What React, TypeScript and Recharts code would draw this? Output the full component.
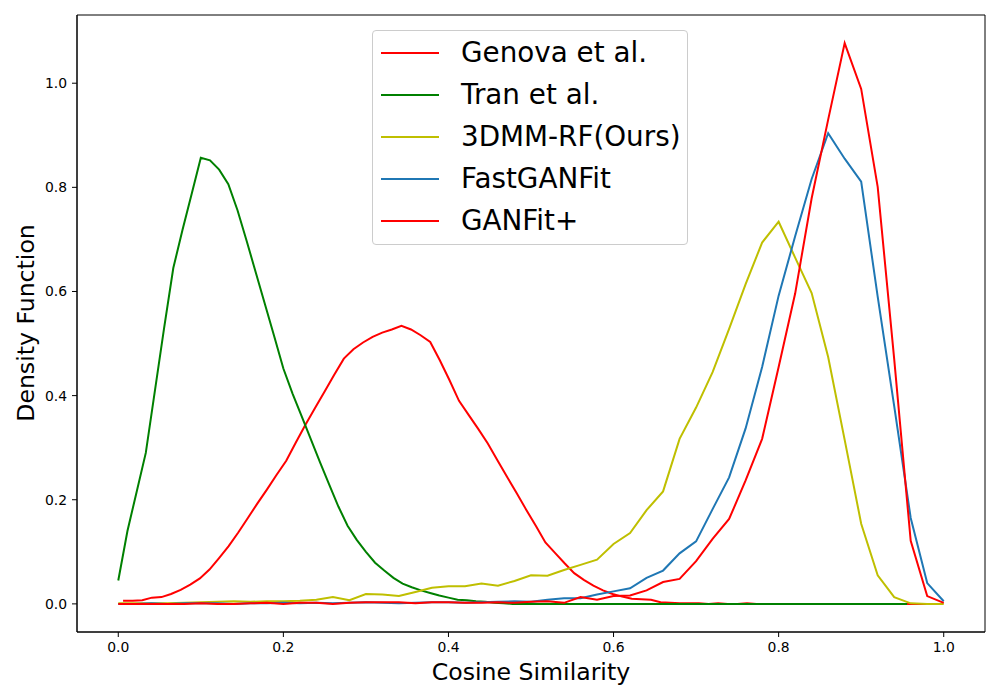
import { Label, Line, LineChart, ReferenceArea, XAxis, YAxis } from "recharts";

// Genova et al. — 86 bin centres over [0, 1]
const GENOVA = [
  0.006, 0.006, 0.007, 0.012, 0.013, 0.019, 0.027, 0.037, 0.049, 0.066,
  0.088, 0.111, 0.137, 0.165, 0.193, 0.22, 0.248, 0.275, 0.31, 0.344,
  0.376, 0.408, 0.44, 0.471, 0.489, 0.502, 0.513, 0.521, 0.527, 0.534,
  0.527, 0.516, 0.503, 0.468, 0.43, 0.39, 0.363, 0.336, 0.308, 0.276,
  0.244, 0.213, 0.181, 0.15, 0.118, 0.098, 0.078, 0.059, 0.046, 0.035,
  0.026, 0.019, 0.014, 0.01, 0.009, 0.008, 0.003, 0.002, 0.001, 0.001,
  0.001, 0, 0.001, 0, 0, 0.001, 0, 0, 0, 0,
  0, 0, 0, 0, 0, 0, 0, 0, 0, 0,
  0, 0, 0, 0, 0, 0,
];

// Tran et al. — samples every 1/90
const TRAN = [
  0.045, 0.14, 0.215, 0.29, 0.41, 0.53, 0.645, 0.718, 0.787, 0.857,
  0.852, 0.834, 0.806, 0.756, 0.697, 0.636, 0.575, 0.514, 0.452, 0.404,
  0.36, 0.316, 0.272, 0.229, 0.187, 0.15, 0.123, 0.1, 0.079, 0.064,
  0.05, 0.039, 0.032, 0.026, 0.021, 0.016, 0.012, 0.008, 0.007, 0.005,
  0.004, 0.002, 0.001, 0, 0, 0, 0, 0, 0, 0,
  0, 0, 0, 0, 0, 0, 0, 0, 0, 0,
  0, 0, 0, 0, 0, 0, 0, 0, 0, 0,
  0, 0, 0, 0, 0, 0, 0, 0, 0, 0,
  0, 0, 0, 0, 0, 0, 0,
];

// the three methods below are sampled every 0.02 from 0 to 1
const OURS = [
  0.001, 0.001, 0.001, 0.001, 0.002, 0.003, 0.004, 0.005, 0.004, 0.005,
  0.005, 0.006, 0.008, 0.013, 0.007, 0.019, 0.018, 0.015, 0.023, 0.031,
  0.034, 0.034, 0.039, 0.035, 0.044, 0.055, 0.054, 0.065, 0.075, 0.085,
  0.115, 0.136, 0.18, 0.216, 0.317, 0.377, 0.445, 0.528, 0.614, 0.694,
  0.734, 0.665, 0.597, 0.474, 0.315, 0.154, 0.055, 0.013, 0.001, 0,
  0,
];

const FASTGANFIT = [
  0, 0, 0.001, 0, 0.001, 0.001, 0.001, 0, 0.001, 0.001,
  0.002, 0.001, 0.002, 0.001, 0.002, 0.003, 0.002, 0.001, 0.002, 0.003,
  0.003, 0.002, 0.003, 0.004, 0.005, 0.004, 0.008, 0.011, 0.011, 0.018,
  0.024, 0.03, 0.05, 0.064, 0.097, 0.12, 0.182, 0.243, 0.337, 0.455,
  0.592, 0.706, 0.816, 0.904, 0.855, 0.811, 0.59, 0.38, 0.165, 0.04,
  0.005,
];

const GANFIT_PLUS = [
  0, 0, 0, 0, 0, 0.001, 0, 0, 0.001, 0.002,
  0, 0.002, 0.002, 0, 0.002, 0.003, 0.003, 0.003, 0.001, 0.003,
  0.003, 0.002, 0.002, 0.003, 0.002, 0.004, 0.005, 0.002, 0.013, 0.008,
  0.015, 0.016, 0.026, 0.042, 0.048, 0.082, 0.125, 0.163, 0.237, 0.317,
  0.455, 0.596, 0.779, 0.93, 1.077, 0.989, 0.801, 0.47, 0.121, 0.015,
  0.002,
];

const X_TICKS = [0, 0.2, 0.4, 0.6, 0.8, 1.0];
const Y_TICKS = [0, 0.2, 0.4, 0.6, 0.8, 1.0];

// sample positions on the x axis
const GENOVA_X = GENOVA.map((_, i) => (i + 0.5) / 86);
const TRAN_X = TRAN.map((_, i) => i / 90);
const GRID_X = OURS.map((_, i) => i * 0.02);

const toPoints = (xs: number[], ys: number[]) =>
  ys.map((y, i) => ({ x: xs[i], y }));

const series = [
  { name: "Genova et al.", color: "#ff0000", data: toPoints(GENOVA_X, GENOVA) },
  { name: "Tran et al.", color: "#008000", data: toPoints(TRAN_X, TRAN) },
  { name: "3DMM-RF(Ours)", color: "#bfbf00", data: toPoints(GRID_X, OURS) },
  { name: "FastGANFit", color: "#1f77b4", data: toPoints(GRID_X, FASTGANFIT) },
  { name: "GANFit+", color: "#ff0000", data: toPoints(GRID_X, GANFIT_PLUS) },
];

const FONT = "DejaVu Sans, sans-serif";
const X_DOMAIN: [number, number] = [-0.05, 1.05];
const Y_DOMAIN: [number, number] = [-0.054, 1.131];

const XTick = ({ x, y, payload }: any) => (
  <text
    x={x}
    y={y}
    dy="0.78em"
    textAnchor="middle"
    fontFamily={FONT}
    fontSize={13.9}
    fill="#000"
  >
    {payload.value.toFixed(1)}
  </text>
);

const YTick = ({ x, y, payload }: any) => (
  <text
    x={x}
    y={y}
    dy="0.36em"
    textAnchor="end"
    fontFamily={FONT}
    fontSize={13.9}
    fill="#000"
  >
    {payload.value.toFixed(1)}
  </text>
);

function ChartLegend() {
  return (
    <div
      style={{
        position: "absolute",
        left: 372,
        top: 30,
        width: 316,
        height: 215,
        boxSizing: "border-box",
        border: "1px solid #cccccc",
        borderRadius: 4,
        background: "rgba(255,255,255,0.8)",
        fontFamily: FONT,
        fontSize: 27.8,
        color: "#000",
        paddingTop: 1,
      }}
    >
      {series.map((s) => (
        <div
          key={s.name}
          style={{ display: "flex", alignItems: "center", height: 42, marginLeft: 8 }}
        >
          <span
            style={{
              display: "inline-block",
              width: 58,
              height: 2,
              background: s.color,
              marginRight: 22,
            }}
          />
          <span style={{ lineHeight: "42px", whiteSpace: "nowrap" }}>{s.name}</span>
        </div>
      ))}
    </div>
  );
}

export default function App() {
  return (
    <div
      style={{
        position: "absolute",
        left: 0,
        top: 0,
        width: 1000,
        height: 700,
        background: "#fff",
      }}
    >
      <LineChart
        width={1000}
        height={700}
        margin={{ top: 15, right: 15, bottom: 0, left: 0 }}
      >
        <XAxis
          type="number"
          dataKey="x"
          domain={X_DOMAIN}
          allowDataOverflow
          ticks={X_TICKS}
          tick={<XTick />}
          tickSize={5}
          tickMargin={4}
          height={68}
          axisLine={{ stroke: "#000" }}
          tickLine={{ stroke: "#000" }}
          label={
            <Label
              content={() => (
                <text
                  x={531}
                  y={672}
                  textAnchor="middle"
                  dominantBaseline="central"
                  fontFamily={FONT}
                  fontSize={23.6}
                  fill="#000"
                >
                  Cosine Similarity
                </text>
              )}
            />
          }
        />
        <YAxis
          type="number"
          domain={Y_DOMAIN}
          allowDataOverflow
          ticks={Y_TICKS}
          tick={<YTick />}
          tickSize={5}
          tickMargin={5}
          width={77}
          axisLine={{ stroke: "#000" }}
          tickLine={{ stroke: "#000" }}
          label={
            <Label
              content={() => (
                <text
                  x={26}
                  y={323}
                  transform="rotate(-90 26 323)"
                  textAnchor="middle"
                  dominantBaseline="central"
                  fontFamily={FONT}
                  fontSize={23.6}
                  fill="#000"
                >
                  Density Function
                </text>
              )}
            />
          }
        />
        <ReferenceArea
          x1={X_DOMAIN[0]}
          x2={X_DOMAIN[1]}
          y1={Y_DOMAIN[0]}
          y2={Y_DOMAIN[1]}
          fill="none"
          stroke="#000"
          strokeWidth={1}
        />
        {series.map((s) => (
          <Line
            key={s.name}
            name={s.name}
            data={s.data}
            dataKey="y"
            type="linear"
            stroke={s.color}
            strokeWidth={2}
            dot={false}
            activeDot={false}
            isAnimationActive={false}
          />
        ))}
      </LineChart>
      <ChartLegend />
    </div>
  );
}
